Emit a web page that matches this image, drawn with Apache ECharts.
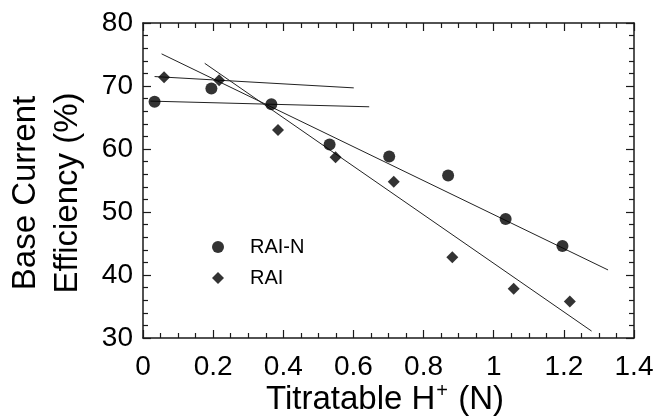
<!DOCTYPE html>
<html>
<head>
<meta charset="utf-8">
<script src="https://cdn.jsdelivr.net/npm/echarts@6/dist/echarts.min.js"></script>
<style>html,body{margin:0;padding:0;background:#fff}#c{width:662px;height:416px}</style>
</head>
<body>
<div id="c"></div>
<script>
// Data
var seriesNames = ['RAI-N', 'RAI'];
var raiN = [[0.033, 67.5], [0.195, 69.6], [0.366, 67.1], [0.532, 60.7], [0.702, 58.8], [0.870, 55.8], [1.034, 48.9], [1.196, 44.6]];
var rai = [[0.060, 71.4], [0.217, 70.9], [0.385, 63.0], [0.549, 58.7], [0.715, 54.8], [0.882, 42.8], [1.057, 37.8], [1.217, 35.8]];
// Fitted lines (endpoints)
var fitRaiNLow = [[0.021, 67.6], [0.645, 66.7]];
var fitRaiLow = [[0.033, 71.5], [0.601, 69.7]];
var fitRaiNHigh = [[0.053, 75.1], [1.326, 40.8]];
var fitRaiHigh = [[0.176, 73.6], [1.279, 31.1]];
var xTicks = {min: 0, max: 1.4, interval: 0.2};
var yTicks = {min: 30, max: 80, interval: 10};
var xTitle = ['Titratable H', '+', ' (N)'];
var yTitle = ['Base Current', 'Efficiency (%)'];

var FONT = 'Liberation Sans, Arial, Helvetica, sans-serif';
var AX = '#1a1a1a';
var chart = echarts.init(document.getElementById('c'), null, {renderer: 'canvas'});

function xAxisCfg(pos, showLabel) {
  return {
    type: 'value', position: pos, min: xTicks.min, max: xTicks.max, interval: xTicks.interval,
    axisLine: {show: true, onZero: false, lineStyle: {color: AX, width: 1.5}},
    axisTick: {show: true, inside: true, length: 8, lineStyle: {color: AX, width: 1.2}},
    minorTick: {show: true, splitNumber: 4, length: 5, lineStyle: {color: AX, width: 1.2}},
    splitLine: {show: false},
    axisLabel: {show: showLabel, margin: 15, color: '#000', fontSize: 28, fontFamily: FONT,
      formatter: function (v) { return String(Math.round(v * 10) / 10); }}
  };
}
function yAxisCfg(pos, showLabel) {
  return {
    type: 'value', position: pos, min: yTicks.min, max: yTicks.max, interval: yTicks.interval,
    axisLine: {show: true, onZero: false, lineStyle: {color: AX, width: 1.5}},
    axisTick: {show: true, inside: true, length: 8, lineStyle: {color: AX, width: 1.2}},
    minorTick: {show: true, splitNumber: 5, length: 5, lineStyle: {color: AX, width: 1.2}},
    splitLine: {show: false},
    axisLabel: {show: showLabel, margin: 10, color: '#000', fontSize: 28, fontFamily: FONT}
  };
}
function fitLine(d) {
  return {type: 'line', data: d, showSymbol: false, symbol: 'none', silent: true,
    lineStyle: {color: '#222', width: 1}, z: 1, animation: false};
}

chart.setOption({
  animation: false,
  backgroundColor: '#fff',
  grid: {left: 143, top: 23, right: 28, bottom: 78, containLabel: false},
  xAxis: [xAxisCfg('bottom', true), xAxisCfg('top', false)],
  yAxis: [yAxisCfg('left', true), yAxisCfg('right', false)],
  legend: {
    data: seriesNames, orient: 'vertical', left: 207, top: 232, itemWidth: 12, itemHeight: 12, itemGap: 11,
    textStyle: {fontSize: 20, color: '#000', fontFamily: FONT, padding: [0, 0, 0, 21]}
  },
  graphic: [
    {type: 'text', x: 47, y: 193, rotation: Math.PI / 2,
      style: {text: yTitle.join('\n'), align: 'center', verticalAlign: 'middle', fill: '#000',
        font: '33px ' + FONT, lineHeight: 42}},
    {type: 'text', x: 385, y: 400,
      style: {text: '{n|' + xTitle[0] + '}{s|' + xTitle[1] + '}{n|' + xTitle[2] + '}', align: 'center', verticalAlign: 'middle',
        fill: '#000', rich: {n: {fontSize: 33, fontFamily: FONT, fill: '#000'},
          s: {fontSize: 20, fontFamily: FONT, fill: '#000', padding: [0, 1, 17, 1]}}}}
  ],
  series: [
    {name: seriesNames[0], type: 'scatter', data: raiN, symbol: 'circle', symbolSize: 12,
      itemStyle: {color: '#000'}, z: 3},
    {name: seriesNames[1], type: 'scatter', data: rai, symbol: 'diamond', symbolSize: [12, 12],
      itemStyle: {color: '#000'}, z: 3},
    fitLine(fitRaiNLow), fitLine(fitRaiLow), fitLine(fitRaiNHigh), fitLine(fitRaiHigh)
  ]
});
</script>
</body>
</html>
